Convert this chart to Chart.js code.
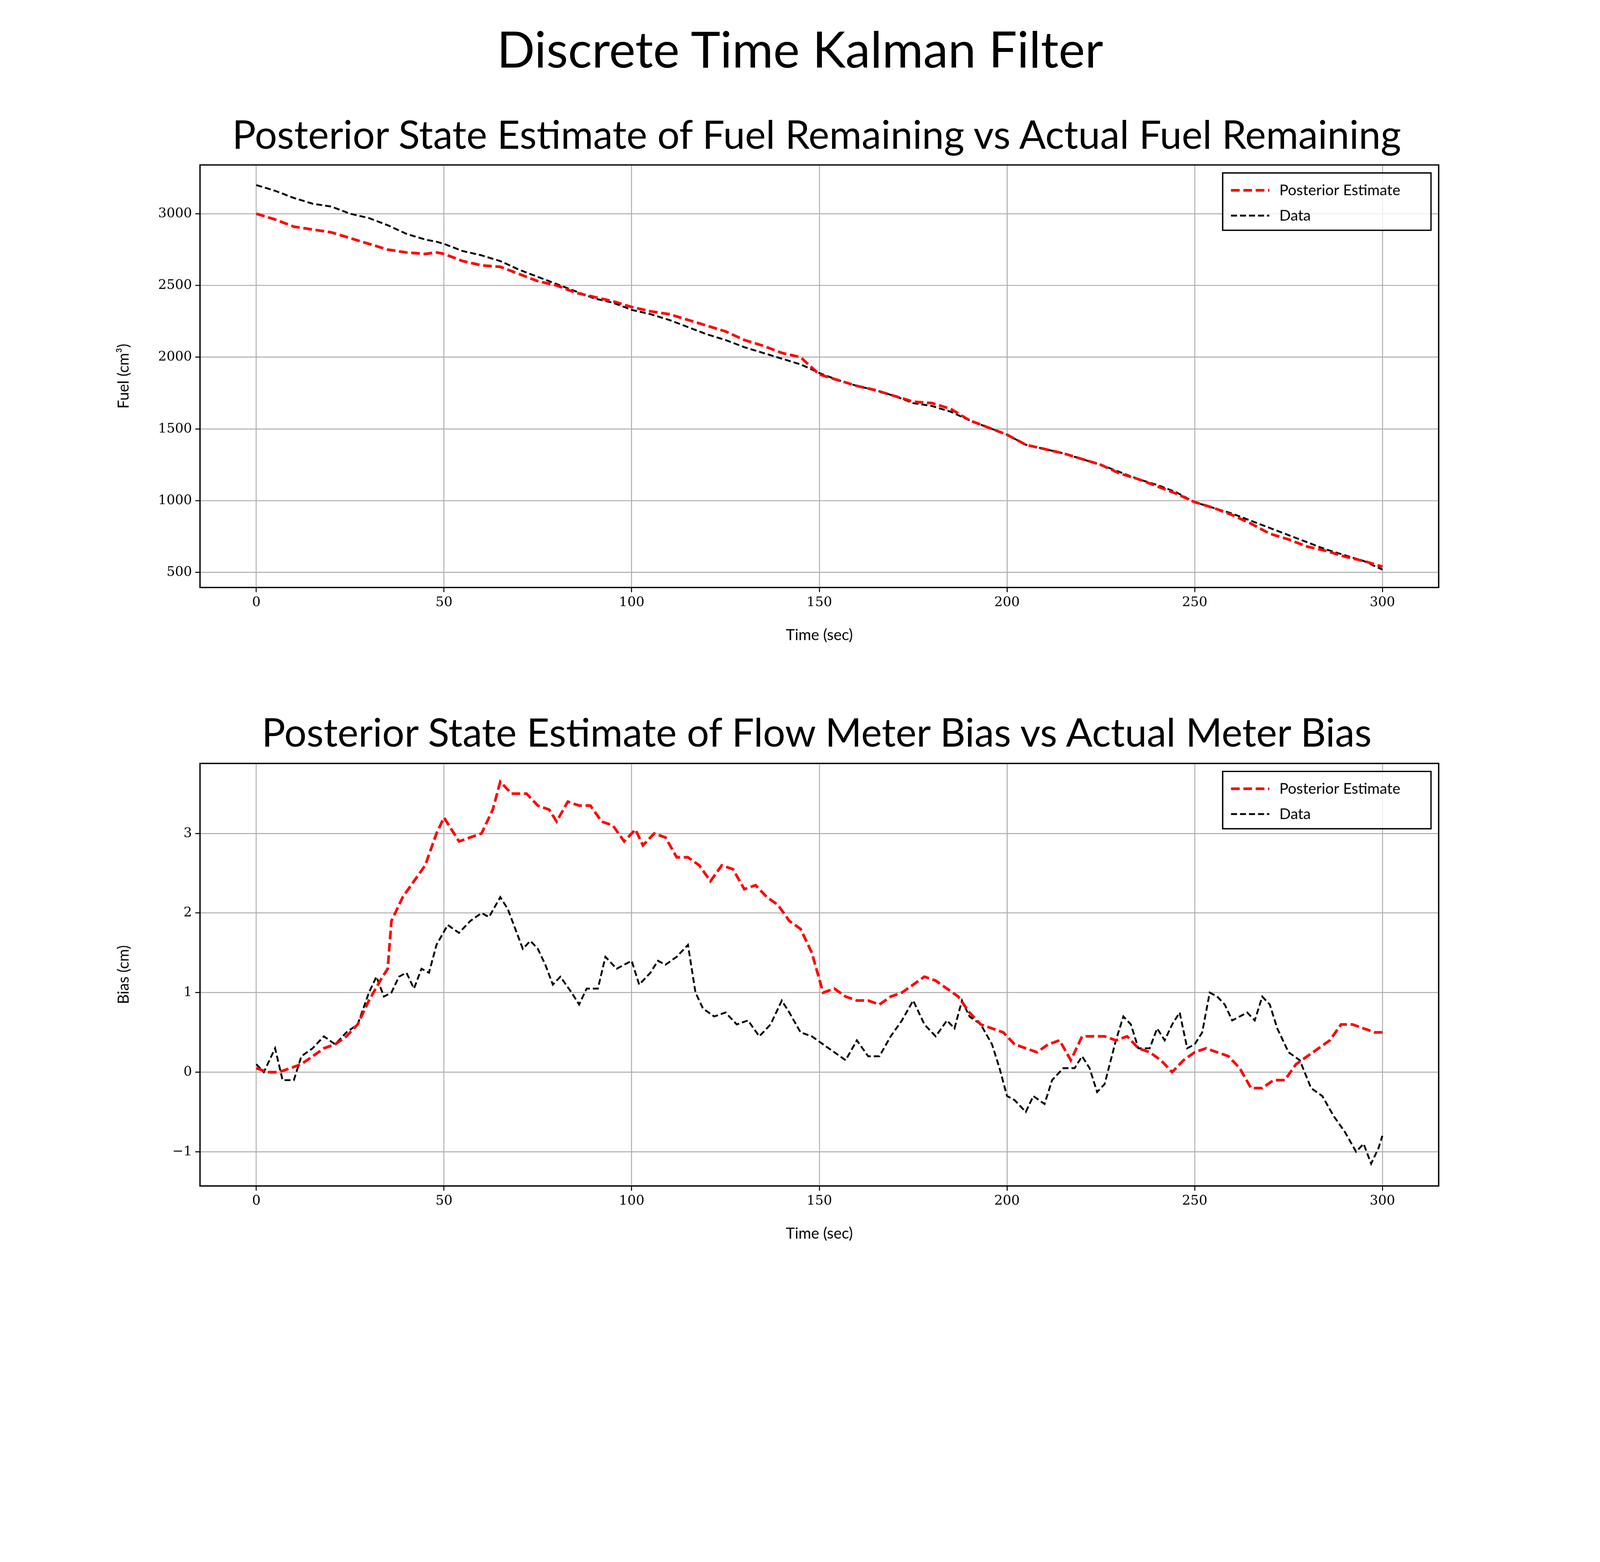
<!DOCTYPE html>
<html>
<head>
<meta charset="utf-8">
<script src="https://cdn.jsdelivr.net/npm/chart.js@4"></script>
<style>
  html, body { margin: 0; padding: 0; overflow: hidden; background: #fff; }
  #page { position: absolute; left: 0; top: 0; width: 4800px; height: 4000px; background: #fff; transform-origin: 0 0; font-family: Lato, "DejaVu Sans", sans-serif; }
  .ttl { position: absolute; left: 0; width: 4800px; text-align: center; color: #000; }
  .wrap { position: absolute; left: 0; width: 4800px; }
</style>
</head>
<body>
<div id="page">
<div class="ttl" style="top:55px;font-size:150px;">Discrete Time Kalman Filter</div>
<div class="ttl" style="top:330px;left:50px;font-size:118px;">Posterior State Estimate of Fuel Remaining vs Actual Fuel Remaining</div>
<div class="ttl" style="top:2125px;left:50px;font-size:118px;">Posterior State Estimate of Flow Meter Bias vs Actual Meter Bias</div>
<div class="wrap" style="top:461px;height:1477px;"><canvas id="fuelChart"></canvas></div>
<div class="wrap" style="top:2257px;height:1477px;"><canvas id="biasChart"></canvas></div>
</div>
<script>
// Fuel remaining (top)
var fuelTime = [0,5,10,15,20,25,30,35,40,45,48,50,55,60,65,70,75,80,85,90,95,100,105,110,115,120,125,130,135,140,145,150,155,160,165,170,175,180,185,190,195,200,205,210,215,220,225,230,235,240,245,250,255,260,265,270,275,280,285,290,295,300];
var fuelEstimate = [3000,2960,2910,2890,2870,2830,2790,2750,2730,2720,2730,2720,2670,2640,2630,2580,2530,2500,2450,2420,2390,2350,2320,2300,2260,2220,2180,2120,2080,2030,2000,1880,1840,1800,1770,1730,1690,1680,1640,1560,1510,1460,1390,1360,1330,1290,1250,1190,1150,1100,1050,990,950,900,840,770,730,680,650,610,580,540];
var fuelData = [3200,3160,3110,3070,3050,3000,2970,2920,2860,2820,2805,2790,2740,2710,2670,2610,2560,2510,2460,2410,2380,2330,2300,2260,2210,2160,2120,2070,2030,1990,1950,1890,1840,1800,1770,1730,1680,1660,1620,1560,1510,1460,1390,1360,1330,1290,1250,1200,1150,1110,1060,990,950,910,860,810,760,710,660,620,580,520];

// Flow meter bias (bottom)
var biasEstTime = [0,3,6,9,12,15,18,21,24,27,30,33,35,36,39,42,45,48,50,54,57,60,63,65,68,72,75,78,80,83,86,89,92,95,98,101,103,106,109,112,115,118,121,124,127,130,133,136,139,142,145,148,151,154,157,160,163,166,169,172,175,178,181,184,187,190,193,196,199,202,205,208,211,214,217,220,223,226,229,232,235,238,241,244,247,250,253,256,259,262,265,268,271,274,277,280,283,286,289,292,295,298,300];
var biasEstimate = [0.05,0.0,0.0,0.05,0.1,0.2,0.3,0.35,0.45,0.6,0.9,1.15,1.3,1.9,2.2,2.4,2.6,3.0,3.2,2.9,2.95,3.0,3.3,3.65,3.5,3.5,3.35,3.3,3.15,3.4,3.35,3.35,3.15,3.1,2.9,3.05,2.85,3.0,2.95,2.7,2.7,2.6,2.4,2.6,2.55,2.3,2.35,2.2,2.1,1.9,1.8,1.5,1.0,1.05,0.95,0.9,0.9,0.85,0.95,1.0,1.1,1.2,1.15,1.05,0.95,0.75,0.6,0.55,0.5,0.35,0.3,0.25,0.35,0.4,0.15,0.45,0.45,0.45,0.4,0.45,0.3,0.25,0.15,0.0,0.15,0.25,0.3,0.25,0.2,0.05,-0.2,-0.2,-0.1,-0.1,0.1,0.2,0.3,0.4,0.6,0.6,0.55,0.5,0.5];
var biasDataTime = [0,2,5,7,10,12,15,18,21,24,27,30,32,34,36,38,40,42,44,46,48,51,54,57,60,62,65,67,69,71,73,75,77,79,81,84,86,88,91,93,96,98,100,102,105,107,109,112,115,117,119,122,125,128,131,134,137,140,142,145,148,151,154,157,160,163,166,169,172,175,178,181,184,186,188,190,193,196,198,200,202,205,207,210,212,215,218,220,222,224,226,229,231,233,235,238,240,242,244,246,248,250,252,254,256,258,260,262,264,266,268,270,272,275,278,281,284,287,290,293,295,297,299,300];
var biasData = [0.1,0.0,0.3,-0.1,-0.1,0.2,0.3,0.45,0.35,0.5,0.6,1.0,1.2,0.95,1.0,1.2,1.25,1.05,1.3,1.25,1.6,1.85,1.75,1.9,2.0,1.95,2.2,2.05,1.8,1.55,1.65,1.55,1.35,1.1,1.2,1.0,0.85,1.05,1.05,1.45,1.3,1.35,1.4,1.1,1.25,1.4,1.35,1.45,1.6,1.0,0.8,0.7,0.75,0.6,0.65,0.45,0.6,0.9,0.75,0.5,0.45,0.35,0.25,0.15,0.4,0.2,0.2,0.45,0.65,0.9,0.6,0.45,0.65,0.55,0.9,0.7,0.6,0.35,0.05,-0.3,-0.35,-0.5,-0.3,-0.4,-0.1,0.05,0.05,0.2,0.05,-0.25,-0.15,0.4,0.7,0.6,0.3,0.3,0.55,0.4,0.6,0.75,0.3,0.35,0.5,1.0,0.95,0.85,0.65,0.7,0.75,0.65,0.95,0.85,0.55,0.25,0.15,-0.2,-0.3,-0.55,-0.75,-1.0,-0.9,-1.15,-0.95,-0.8];

// fit the 4800x4000 page into whatever viewport we get
var page = document.getElementById("page");
var fit = Math.min(window.innerWidth / 4800, window.innerHeight / 4000);
page.style.transform = "scale(" + fit + ")";

function pts(xs, ys) {
  return xs.map(function (x, i) { return { x: x, y: ys[i] }; });
}

var frameAndLegend = {
  id: "frameAndLegend",
  afterDraw: function (chart) {
    var ctx = chart.ctx, a = chart.chartArea;
    ctx.save();
    ctx.strokeStyle = "#000";
    ctx.lineWidth = 4;
    ctx.strokeRect(a.left, a.top, a.right - a.left, a.bottom - a.top);
    // legend box in upper right
    var bx = a.right - 648, by = a.top + 24, bw = 625, bh = 172;
    ctx.fillStyle = "rgba(255,255,255,0.8)";
    ctx.fillRect(bx, by, bw, bh);
    ctx.lineWidth = 4;
    ctx.strokeRect(bx, by, bw, bh);
    ctx.font = "45px Lato, 'DejaVu Sans', sans-serif";
    ctx.textBaseline = "middle";
    chart.data.datasets.forEach(function (ds, i) {
      var y = by + 52 + i * 76;
      ctx.strokeStyle = ds.borderColor;
      ctx.lineWidth = ds.borderWidth;
      ctx.setLineDash(ds.borderDash);
      ctx.beginPath();
      ctx.moveTo(bx + 25, y);
      ctx.lineTo(bx + 140, y);
      ctx.stroke();
      ctx.setLineDash([]);
      ctx.fillStyle = "#000";
      ctx.fillText(ds.label, bx + 170, y);
    });
    ctx.restore();
  }
};

function makeChart(id, estPts, dataPts, ymin, ymax, ystep, ytitle) {
  var ctx = document.getElementById(id).getContext("2d");
  return new Chart(ctx, {
    type: "line",
    data: {
      datasets: [
        { label: "Posterior Estimate", data: estPts, borderColor: "#ff0000", borderWidth: 8, borderDash: [26, 11], pointRadius: 0, tension: 0 },
        { label: "Data", data: dataPts, borderColor: "#000000", borderWidth: 5.5, borderDash: [18, 9], pointRadius: 0, tension: 0 }
      ]
    },
    options: {
      responsive: true,
      maintainAspectRatio: false,
      animation: false,
      devicePixelRatio: 1,
      layout: { padding: { top: 20, right: 484, left: 340, bottom: 0 } },
      plugins: { legend: { display: false }, tooltip: { enabled: false } },
      scales: {
        x: {
          type: "linear", min: -15, max: 315,
          afterFit: function (s) { s.height = 175; },
          afterBuildTicks: function (s) { s.ticks = [0, 50, 100, 150, 200, 250, 300].map(function (v) { return { value: v }; }); },
          grid: { color: "#b0b0b0", lineWidth: 3, tickLength: 14, tickColor: "#000" },
          border: { display: false },
          ticks: { color: "#000", font: { family: "'DejaVu Serif', serif", size: 40 }, padding: 8, maxRotation: 0 },
          title: { display: true, text: "Time (sec)", color: "#000", font: { family: "Lato, 'DejaVu Sans', sans-serif", size: 46 }, padding: { top: 8 } }
        },
        y: {
          min: ymin, max: ymax,
          afterFit: function (s) { s.width = 260; },
          afterBuildTicks: function (s) {
            var t = [];
            for (var v = Math.ceil(ymin / ystep) * ystep; v <= ymax; v += ystep) t.push({ value: v });
            s.ticks = t;
          },
          grid: { color: "#b0b0b0", lineWidth: 3, tickLength: 14, tickColor: "#000" },
          border: { display: false },
          ticks: { color: "#000", font: { family: "'DejaVu Serif', serif", size: 40 }, padding: 10, callback: function (v) { return v < 0 ? "\u2212" + Math.abs(v) : String(v); } },
          title: { display: true, text: ytitle, color: "#000", font: { family: "Lato, 'DejaVu Sans', sans-serif", size: 46 }, padding: { bottom: 0 } }
        }
      }
    },
    plugins: [frameAndLegend]
  });
}

makeChart("fuelChart", pts(fuelTime, fuelEstimate), pts(fuelTime, fuelData), 395, 3340, 500, "Fuel (cm\u00B3)");
makeChart("biasChart", pts(biasEstTime, biasEstimate), pts(biasDataTime, biasData), -1.43, 3.88, 1, "Bias (cm)");
</script>
</body>
</html>
